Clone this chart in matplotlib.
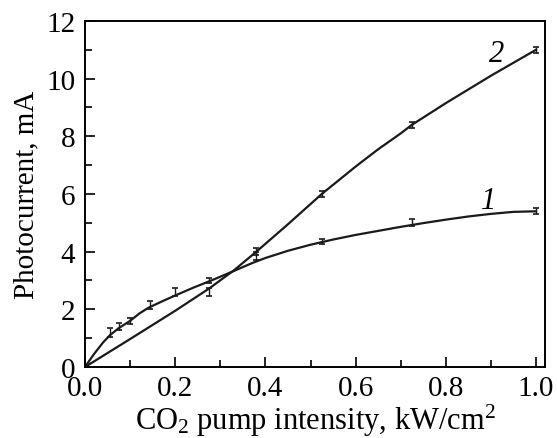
import numpy as np
import matplotlib
matplotlib.use('Agg')
import matplotlib.pyplot as plt
from matplotlib.ticker import MultipleLocator

plt.rcParams['font.family'] = ['Liberation Serif', 'DejaVu Serif']
plt.rcParams['mathtext.fontset'] = 'custom'
plt.rcParams['mathtext.rm'] = 'Liberation Serif'
plt.rcParams['mathtext.it'] = 'Liberation Serif:italic'

# measured points with error bars
x1 = [0.055, 0.075, 0.10, 0.145, 0.20, 0.275, 0.38, 0.525, 0.725, 1.0]
y1 = [1.2, 1.4, 1.6, 2.15, 2.6, 3.0, 3.85, 4.35, 5.0, 5.4]
e1 = [0.15, 0.12, 0.1, 0.15, 0.15, 0.1, 0.15, 0.1, 0.12, 0.1]

x2 = [0.275, 0.38, 0.525, 0.725, 1.0]
y2 = [2.6, 4.0, 6.0, 8.4, 11.0]
e2 = [0.15, 0.12, 0.1, 0.1, 0.1]

# traced fit curves
cx1 = [0.0, 0.02, 0.04, 0.055, 0.075, 0.10, 0.12, 0.14, 0.17, 0.20, 0.24, 0.28, 0.33, 0.37, 0.40,
       0.45, 0.50, 0.55, 0.60, 0.65, 0.70, 0.75, 0.80, 0.85, 0.90, 0.95, 1.0]
cy1 = [0.0, 0.45, 0.85, 1.1, 1.35, 1.6, 1.85, 2.05, 2.27, 2.48, 2.75, 3.0, 3.33, 3.6, 3.78,
       4.03, 4.24, 4.42, 4.58, 4.72, 4.86, 4.99, 5.11, 5.22, 5.31, 5.38, 5.4]
cx2 = [0.0, 0.1, 0.2, 0.275, 0.33, 0.38, 0.45, 0.525, 0.6, 0.65, 0.7, 0.725, 0.8, 0.9, 1.0]
cy2 = [0.0, 0.97, 1.95, 2.72, 3.35, 4.0, 4.95, 6.0, 6.95, 7.55, 8.1, 8.4, 9.15, 10.1, 11.0]

fig = plt.figure(figsize=(5.57, 4.39), dpi=100)
ax = fig.add_axes([0.1526, 0.1617, 0.9785 - 0.1526, 0.95 - 0.1617])

ax.plot(cx1, cy1, color='#1a1a1a', lw=1.6, solid_joinstyle='round')
ax.plot(cx2, cy2, color='#1a1a1a', lw=1.6, solid_joinstyle='round')
ax.errorbar(x1, y1, yerr=e1, fmt='none', ecolor='#1a1a1a', elinewidth=1.0, capsize=2.5, capthick=1.2)
ax.errorbar(x2, y2, yerr=e2, fmt='none', ecolor='#1a1a1a', elinewidth=1.0, capsize=2.5, capthick=1.2)

ax.text(0.913, 10.87, '2', fontsize=22, style='italic', ha='center', va='center')
ax.text(0.894, 5.76, '1', fontsize=22, style='italic', ha='center', va='center')

ax.set_xlim(0, 1.02)
ax.set_ylim(0, 12)
ax.xaxis.set_major_locator(MultipleLocator(0.2))
ax.xaxis.set_minor_locator(MultipleLocator(0.1))
ax.yaxis.set_major_locator(MultipleLocator(2))
ax.yaxis.set_minor_locator(MultipleLocator(1))
ax.xaxis.set_major_formatter(plt.FuncFormatter(lambda v, p: f'{v:.1f}'))
ax.tick_params(which='both', direction='in', top=False, right=False, labelsize=21, width=1.2)
ax.tick_params(which='major', length=7)
ax.tick_params(axis='y', pad=7)
ax.tick_params(axis='x', pad=6)
ax.tick_params(which='minor', length=5)
for s in ax.spines.values():
    s.set_linewidth(1.4)

ax.set_xlabel('CO$_2$ pump intensity, kW/cm$^2$', fontsize=22, labelpad=0)
ax.set_ylabel('Photocurrent, mA', fontsize=21, labelpad=5)

fig.savefig('out.png', dpi=100)
